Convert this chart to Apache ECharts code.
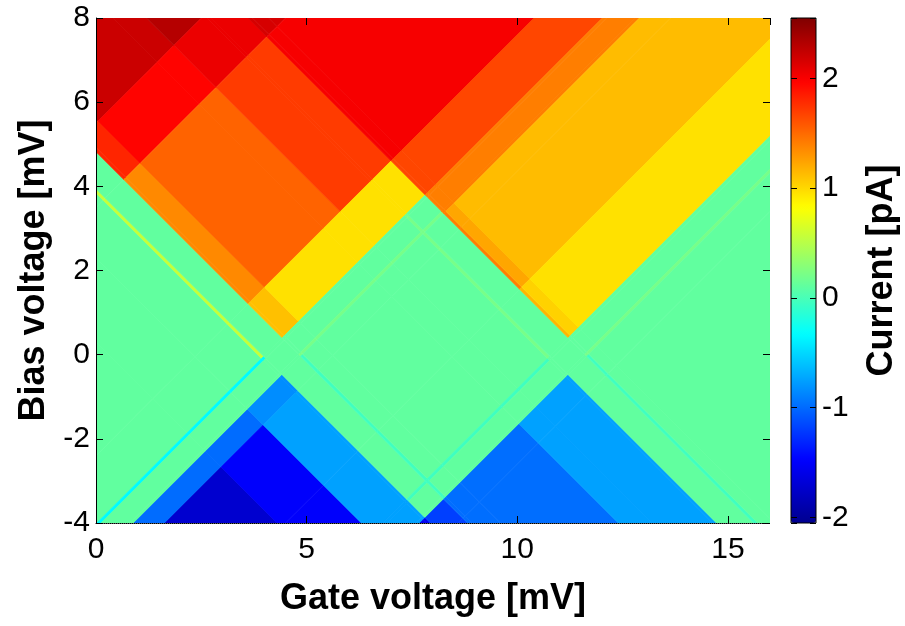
<!DOCTYPE html>
<html><head><meta charset="utf-8">
<script src="https://cdn.jsdelivr.net/npm/echarts@6/dist/echarts.min.js"></script>
<style>html,body{margin:0;padding:0;background:#fff}#c{width:905px;height:626px}</style>
</head><body><div id="c"></div>
<script>
// ---- data ----
// transition lines rising to the right (gate - bias = const) [mV]
const riseLines = [-5.5, -3.5, 2.4, 4.02, 4.12, 4.8, 4.9, 5.64, 8.5, 10.81, 10.91, 11.59, 11.69, 12.6];
// transition lines falling to the right (gate + bias = const) [mV]
const fallLines = [0.3, 2.3, 3.84, 3.94, 4.82, 4.92, 5.6, 8.4, 9.2, 10.63, 10.73, 11.61, 11.71, 12.1];
// current [pA] in each patch: one row per fallLines band (low to high), one column per riseLines band
const currentRows = [
  [0,0,0,0,-0.45,0,0,-1.1,-1.83,-1.83,-1.83,-1.83,-1.83,-1.83,-1.83],
  [0,0,0,0,-0.45,0,0,-1.1,-1.6,-1.6,-1.6,-1.6,-1.6,-1.6,-1.6],
  [0,0,0,0,-0.45,0,0,-0.95,-0.86,-0.86,-0.86,-0.86,-0.86,-1.65,-1.65],
  [0.45,0.45,0.45,0.45,-0.45,0,0,-0.95,-0.86,-0.86,-0.86,-0.86,-0.86,-1.65,-1.65],
  [0,0,0,0,0,0,0,0,0,0,-0.15,0,0,-1.3,-1.3],
  [1.7,1.7,1.25,1.0,0,0,0.1,-0.15,-0.15,-0.15,-0.15,-0.15,-0.15,-1.09,-1.09],
  [1.7,1.7,1.25,1.0,0,0,0.1,0,0,0,-0.15,0,0,-1.09,-1.09],
  [2.1,1.85,1.42,0.85,0,0,0.1,0,0,0,-0.15,0,0,-1.09,-1.09],
  [2.1,1.85,1.42,0.85,0,0,0.1,0,0,0,-0.15,0,0,-0.86,-0.86],
  [2.2,1.95,1.6,0.85,0,0,0.1,0,0,0,-0.15,0,0,-0.86,-0.86],
  [2.2,1.95,1.6,0.85,0.1,0.1,0.1,0.1,0.1,0.1,0,0,0,-0.86,-0.86],
  [2.2,1.95,1.6,0.85,0,0,0.1,0,0,0,0,0,0,0,0],
  [2.25,2.05,1.9,1.55,1.3,1.3,1.3,1.3,1.3,1.05,0,0,0.1,-0.15,-0.15],
  [2.25,2.05,1.9,1.55,1.3,1.3,1.3,1.12,1.12,0.92,0,0,0.1,0,0],
  [2.25,2.05,1.9,1.55,1.3,1.3,1.3,1.02,1.02,0.85,0,0,0.1,0,0]
];
const gateRange = [0, 16];
const biasRange = [-4, 8];
const currentRange = [-2.05, 2.55];

// ---- chart ----
const FONT = "'Liberation Sans', Arial, Helvetica, sans-serif";
const jet = ['#00008F','#0000FF','#0080FF','#00FFFF','#80FF80','#FFFF00','#FF8000','#FF0000','#800000'];

const cells = [];
currentRows.forEach((row, i) => row.forEach((val, j) => cells.push([j, i, val])));

function bandEdges(lines, k, lo, hi) {
  return [k === 0 ? lo : lines[k - 1], k === lines.length ? hi : lines[k]];
}
function clipPoly(pts, x0, x1, y0, y1) {
  const tests = [
    [p => p[0] >= x0, (a, b) => { const t = (x0 - a[0]) / (b[0] - a[0]); return [x0, a[1] + t * (b[1] - a[1])]; }],
    [p => p[0] <= x1, (a, b) => { const t = (x1 - a[0]) / (b[0] - a[0]); return [x1, a[1] + t * (b[1] - a[1])]; }],
    [p => p[1] >= y0, (a, b) => { const t = (y0 - a[1]) / (b[1] - a[1]); return [a[0] + t * (b[0] - a[0]), y0]; }],
    [p => p[1] <= y1, (a, b) => { const t = (y1 - a[1]) / (b[1] - a[1]); return [a[0] + t * (b[0] - a[0]), y1]; }]
  ];
  for (const [inside, cut] of tests) {
    const out = [];
    for (let i = 0; i < pts.length; i++) {
      const cur = pts[i], prev = pts[(i + pts.length - 1) % pts.length];
      if (inside(cur)) { if (!inside(prev)) out.push(cut(prev, cur)); out.push(cur); }
      else if (inside(prev)) out.push(cut(prev, cur));
    }
    pts = out;
    if (!pts.length) break;
  }
  return pts;
}

function renderCell(params, api) {
  const j = api.value(0), i = api.value(1);
  const [d0, d1] = bandEdges(riseLines, j, -40, 50);
  const [s0, s1] = bandEdges(fallLines, i, -40, 50);
  const corners = [[d0, s0], [d1, s0], [d1, s1], [d0, s1]].map(([d, s]) => [(s + d) / 2, (s - d) / 2]);
  const clipped = clipPoly(corners, gateRange[0], gateRange[1], biasRange[0], biasRange[1]);
  if (clipped.length < 3) return null;
  const color = api.visual('color');
  return {
    type: 'polygon',
    shape: { points: clipped.map(p => api.coord(p)) },
    style: { fill: color, stroke: color, lineWidth: 0.7 }
  };
}

const tickStyle = { show: true, inside: true, length: 7, lineStyle: { color: '#000' } };
const labelStyle = { fontSize: 30, color: '#000', fontFamily: FONT };
const nameStyle = { fontSize: 36, fontWeight: 'bold', color: '#000', fontFamily: FONT };

const option = {
  animation: false,
  backgroundColor: '#fff',
  grid: [
    { left: 96, top: 18, width: 674, height: 505, show: false },
    { left: 791, top: 18, width: 25, height: 505, show: true, borderColor: '#000', borderWidth: 1, backgroundColor: 'transparent', z: 10 }
  ],
  xAxis: [
    {
      gridIndex: 0, type: 'value', min: gateRange[0], max: gateRange[1], interval: 5, z: 10,
      name: 'Gate voltage [mV]', nameLocation: 'middle', nameGap: 58, nameTextStyle: nameStyle,
      axisLine: { show: true, onZero: false, lineStyle: { color: '#000', width: 1, type: 'dotted' } },
      axisTick: tickStyle, splitLine: { show: false },
      axisLabel: Object.assign({ margin: 12, showMaxLabel: false }, labelStyle)
    },
    {
      gridIndex: 0, type: 'value', position: 'top', min: gateRange[0], max: gateRange[1], interval: 5, z: 10,
      axisLine: { show: false, onZero: false }, axisTick: tickStyle, axisLabel: { show: false }, splitLine: { show: false }
    },
    { gridIndex: 1, type: 'value', min: 0, max: 1, show: false }
  ],
  yAxis: [
    {
      gridIndex: 0, type: 'value', min: biasRange[0], max: biasRange[1], interval: 2, z: 10,
      name: 'Bias voltage [mV]', nameLocation: 'middle', nameGap: 44, nameRotate: 90, nameTextStyle: nameStyle,
      axisLine: { show: true, onZero: false, lineStyle: { color: '#000', width: 1 } },
      axisTick: tickStyle, splitLine: { show: false },
      axisLabel: Object.assign({ margin: 6 }, labelStyle)
    },
    {
      gridIndex: 0, type: 'value', position: 'right', min: biasRange[0], max: biasRange[1], interval: 2, z: 10,
      axisLine: { show: false, onZero: false }, axisTick: tickStyle, axisLabel: { show: false }, splitLine: { show: false }
    },
    {
      gridIndex: 1, type: 'value', position: 'right', min: currentRange[0], max: currentRange[1], splitNumber: 5, z: 12,
      axisLine: { show: false, onZero: false },
      axisTick: { show: true, inside: true, length: 6, lineStyle: { color: '#000' } }, splitLine: { show: false },
      name: 'Current [pA]', nameLocation: 'middle', nameGap: 48, nameRotate: 90, nameTextStyle: nameStyle,
      axisLabel: Object.assign({ margin: 6, formatter: v => (Math.abs(v - Math.round(v)) < 1e-9 ? String(Math.round(v)) : '') }, labelStyle)
    },
    {
      gridIndex: 1, type: 'value', position: 'left', min: currentRange[0], max: currentRange[1], splitNumber: 5, z: 12,
      axisLine: { show: false, onZero: false },
      axisTick: { show: true, inside: true, length: 6, lineStyle: { color: '#000' } }, splitLine: { show: false },
      axisLabel: { show: false }
    }
  ],
  visualMap: {
    type: 'continuous', seriesIndex: 0, dimension: 2,
    min: currentRange[0] - 0.11, max: currentRange[1] - 0.11,
    left: 791, top: 18, itemWidth: 25, itemHeight: 505, padding: 0,
    calculable: false, hoverLink: false,
    inRange: { color: jet }
  },
  series: [{
    type: 'custom', coordinateSystem: 'cartesian2d', xAxisIndex: 0, yAxisIndex: 0,
    renderItem: renderCell, clip: true, data: cells, z: 2, silent: true
  }]
};
const chart = echarts.init(document.getElementById('c'), null, { renderer: 'canvas' });
chart.setOption(option);
</script>
</body></html>
